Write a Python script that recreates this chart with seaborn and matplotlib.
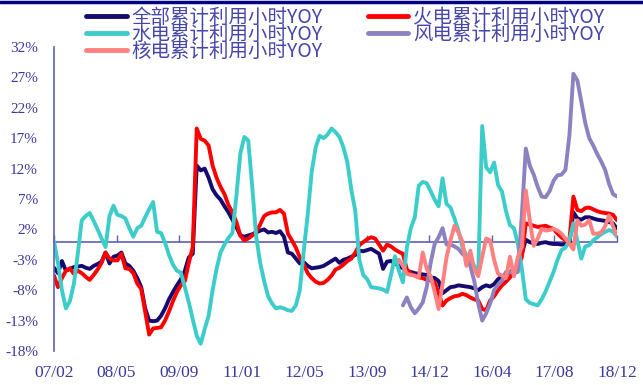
import numpy as np
import pandas as pd
import matplotlib
matplotlib.use("Agg")
import matplotlib.pyplot as plt
from matplotlib.lines import Line2D
import seaborn as sns

# Monthly YoY change of cumulative utilisation hours (%), 2007-02 .. 2018-12
months = pd.period_range("2007-02", "2018-12", freq="M")

total = [
    -4.3, -5.2, -3.2, -4.8, -4.5, -4.2, -4.1, -4.0, -4.3, -4.5,
    -4.0, -3.7, -3.3, -1.8, -3.6, -2.5, -2.3, -1.8, -3.6, -4.0,
    -4.8, -6.0, -7.5, -11.0, -13.0, -13.1, -13.0, -12.2, -11.0, -9.5,
    -8.3, -7.2, -6.2, -4.8, -2.6, -2.0, 12.5, 11.7, 12.0, 10.5,
    8.6, 7.6, 6.9, 5.8, 4.8, 3.6, 2.4, 1.0, 0.8, 1.0,
    1.2, 1.5, 1.8, 2.0, 1.5, 1.6, 1.4, 1.7, 0.8, -1.8,
    -2.0, -2.8, -3.6, -3.4, -4.0, -4.4, -4.3, -4.2, -4.0, -3.6,
    -3.2, -2.8, -3.5, -3.0, -2.8, -2.5, -2.2, -1.5, -1.6, -1.4,
    -1.2, -1.6, -2.0, -4.5, -3.3, -3.2, -3.6, -4.0, -4.4, -4.8,
    -5.0, -5.2, -5.3, -5.4, -5.5, -5.9, -6.0, -6.5, -8.5, -8.0,
    -7.5, -7.4, -7.2, -7.3, -7.4, -7.5, -7.7, -8.0, -7.5, -7.2,
    -7.4, -7.0, -6.2, -5.7, -5.4, -5.0, -4.6, -4.2, -2.0, 0.3,
    -0.1, -0.3, -0.4, -0.2, -0.1, -0.3, -0.4, -0.4, -0.5, -0.4,
    -0.3, 4.8, 3.8, 3.6, 4.0, 4.0, 3.8, 3.6, 3.5, 3.4,
    3.2, 3.0, 2.1,
]

thermal = [
    -5.6, -7.5, -6.0, -4.8, -4.4, -5.3, -4.8, -5.2, -5.8, -6.3,
    -5.5, -4.6, -3.5, -1.8, -2.8, -3.1, -3.1, -2.0, -4.4, -4.5,
    -5.2, -6.9, -7.8, -11.5, -15.3, -14.3, -14.2, -14.1, -13.0, -11.5,
    -9.8, -8.3, -7.2, -6.5, -3.5, -0.9, 18.6, 16.9, 16.6, 15.8,
    12.5, 10.5, 9.0, 7.8, 6.0, 4.8, 3.2, 1.0, 0.2, 0.5,
    1.0, 1.6, 2.8, 4.2, 4.6, 4.8, 4.8, 5.2, 4.6, 1.3,
    0.2, -1.0, -2.6, -3.8, -5.2, -6.0, -6.6, -6.9, -6.8, -6.3,
    -5.6, -4.6, -4.3, -3.8, -3.2, -2.8, -1.8, -0.6, -0.1, 0.4,
    0.7, 0.5, -0.5, -1.5, -0.5, -0.8, -1.3, -1.7, -2.0, -4.6,
    -5.3, -5.6, -5.9, -6.0, -6.3, -6.4, -6.7, -8.5, -10.5, -9.7,
    -9.3, -9.0, -8.9, -8.6, -8.8, -9.2, -9.5, -9.7, -11.1, -11.3,
    -9.7, -9.0, -8.0, -7.2, -6.6, -5.9, -5.0, -4.2, -2.6, 3.0,
    2.8, 2.6, 2.4, 2.5, 2.6, 2.3, 2.1, 1.3, 0.7, 0.2,
    0.3, 7.4, 5.2, 5.0, 5.5, 5.6, 5.3, 5.0, 4.8, 4.7,
    4.6, 4.4, 3.5,
]

hydro = [
    0.0, -3.5, -8.0, -11.0, -9.8, -7.0, -2.0, 3.5, 4.2, 4.7,
    3.4, 2.0, 0.5, -0.9, 4.2, 5.9, 4.4, 4.2, 3.8, 2.2,
    0.8, 2.2, 2.6, 4.0, 5.3, 6.5, 1.6, 1.4, -0.2, -2.2,
    -3.8, -4.8, -5.1, -7.5, -10.0, -12.8, -15.5, -16.8, -14.4, -12.2,
    -8.0, -4.5, -1.8, -0.5, 0.6, 1.4, 7.5, 14.5, 17.2, 16.6,
    9.0, 0.8, -3.5, -6.5, -9.0, -10.2, -11.0, -10.8, -11.0, -11.3,
    -11.4, -10.5, -8.0, -1.5, 4.5, 11.5, 15.5, 17.4, 17.0, 17.6,
    18.6, 18.0, 17.2, 15.5, 13.0, 8.5, 5.0, -3.0, -5.5, -6.2,
    -7.5, -7.6, -7.7, -7.9, -8.3, -5.5, -2.4, -4.8, -6.7, -1.0,
    2.2, 4.0, 9.2, 9.8, 9.6, 8.3, 6.9, 5.8, 10.4, 6.2,
    5.6, 3.8, 1.8, -0.9, -2.2, -3.2, -4.0, -5.3, 19.0, 12.2,
    11.4, 13.0, 9.3, 8.2, 5.0, 2.7, 2.2, -0.4, -4.5, -9.5,
    -10.1, -10.3, -10.5, -9.5, -8.2, -6.6, -5.0, -3.0, -1.4, -1.0,
    0.3, 3.0, 0.2, -2.8, -0.8, -0.6, 0.2, 0.7, 1.2, 1.6,
    1.9, 1.6, 0.8,
]

nuclear_start = "2014-05"
nuclear = [
    -3.0, -4.0, -5.3, -5.5, -5.6, -5.9, -1.8, -4.5, -5.7, -8.2,
    -11.1, -7.0, -2.6, 0.2, 2.6, 1.5, 0.0, -4.0, -1.5, -4.5,
    -5.7, -2.5, 0.5, 0.2, -3.0, -5.3, -5.6, -6.0, -2.5, -5.7,
    -2.5, -0.9, 8.4, 3.5, -0.7, 0.5, 2.1, 1.8, 1.9, 2.1,
    1.8, 1.3, 0.5, -0.4, -1.3, 3.5, 2.6, 2.8, 3.5, 1.3,
    1.3, 1.5, 2.5, 4.3, 2.5, 1.0,
]

wind_start = "2014-06"
wind = [
    -10.5, -9.2, -10.8, -11.8, -11.0, -10.0, -7.5, -3.5, -0.4, 0.7,
    2.2, -0.5, -0.5, -0.8, -1.2, -2.0, -2.6, -4.0, -6.5, -10.2,
    -13.0, -11.8, -10.2, -8.0, -7.1, -6.4, -5.0, -5.0, -5.2, -5.0,
    4.4, 15.3, 12.5, 11.0, 9.0, 7.4, 7.3, 8.3, 10.0, 10.9,
    11.0, 11.8, 17.5, 27.6, 26.5, 23.0, 19.5, 17.0, 15.8, 14.4,
    13.2, 11.8, 9.5, 7.8, 7.4,
]

series_names = [
    "全部累计利用小时YOY",
    "火电累计利用小时YOY",
    "水电累计利用小时YOY",
    "风电累计利用小时YOY",
    "核电累计利用小时YOY",
]
series_colors = ["#140a70", "#ff0000", "#3ccdcb", "#8c82c2", "#ff8080"]
tick_labels = ["07/02", "08/05", "09/09", "11/01", "12/05",
               "13/09", "14/12", "16/04", "17/08", "18/12"]
y_ticks = [-18, -13, -8, -3, 2, 7, 12, 17, 22, 27, 32]


def to_frame(name, values, start="2007-02"):
    first = months.get_loc(pd.Period(start, freq="M"))
    idx = np.arange(first, first + len(values))
    return pd.DataFrame({"idx": idx, "value": values, "series": name})


df = pd.concat([
    to_frame(series_names[0], total),
    to_frame(series_names[1], thermal),
    to_frame(series_names[2], hydro),
    to_frame(series_names[3], wind, wind_start),
    to_frame(series_names[4], nuclear, nuclear_start),
], ignore_index=True)

sns.set_style("white")
plt.rcParams["font.family"] = ["Liberation Serif", "DejaVu Serif"]

axis_color = "#5f5fb0"
text_color = "#3a3a9c"

fig = plt.figure(figsize=(6.43, 3.85), dpi=100)
ax = fig.add_axes([54 / 643, 34 / 385, 563 / 643, 304 / 385])

palette = dict(zip(series_names, series_colors))
sns.lineplot(data=df, x="idx", y="value", hue="series", hue_order=series_names,
             palette=palette, linewidth=2.8, legend=False, estimator=None,
             ax=ax)

ax.set_xlim(0, len(months) - 1)
ax.set_ylim(-18, 32)
ax.set_xlabel("")
ax.set_ylabel("")

# y axis
ax.set_yticks(y_ticks)
ax.set_yticklabels([f"{v}%" for v in y_ticks])
ax.tick_params(axis="y", direction="in", length=5, width=1, color=axis_color,
               labelsize=11, labelcolor=text_color, pad=11.5)
for side in ("top", "right", "bottom"):
    ax.spines[side].set_visible(False)
ax.spines["left"].set_color(axis_color)
ax.spines["left"].set_linewidth(1.2)

# x labels along the bottom edge
xt = np.linspace(0, len(months) - 1, len(tick_labels))
ax.set_xticks(xt)
ax.set_xticklabels(tick_labels)
ax.tick_params(axis="x", length=0, labelsize=12.5, labelcolor=text_color, pad=10)

# horizontal zero axis with upward tick marks
zero_frac = (0 - (-18)) / (32 - (-18))
sec = ax.secondary_xaxis(zero_frac)
sec.set_xticks(xt)
sec.tick_params(axis="x", direction="in", length=5, width=1, color=axis_color,
                labelbottom=False, labeltop=False)
for sp in sec.spines.values():
    sp.set_color(axis_color)
    sp.set_linewidth(1.2)

# dark rule across the top of the figure
fig.add_artist(Line2D([0, 1], [1 - 1.5 / 385] * 2, transform=fig.transFigure,
                      color="#000080", lw=2.5))

# legend: two columns above the plot
order = [0, 2, 4, 1, 3]
handles = [Line2D([], [], color=series_colors[i], lw=3.5) for i in order]
labels = [series_names[i] for i in order]
fig.legend(handles, labels, ncol=2, loc="upper left",
           bbox_to_anchor=(86 / 643, 1 - 7 / 385), frameon=False,
           prop={"family": ["Noto Sans CJK SC", "DejaVu Sans"], "size": 14},
           labelcolor="#4646aa", handlelength=2.1, handletextpad=0.25,
           columnspacing=2.3, labelspacing=-0.2, borderpad=0,
           borderaxespad=0)

fig.savefig("out.png", dpi=100)
